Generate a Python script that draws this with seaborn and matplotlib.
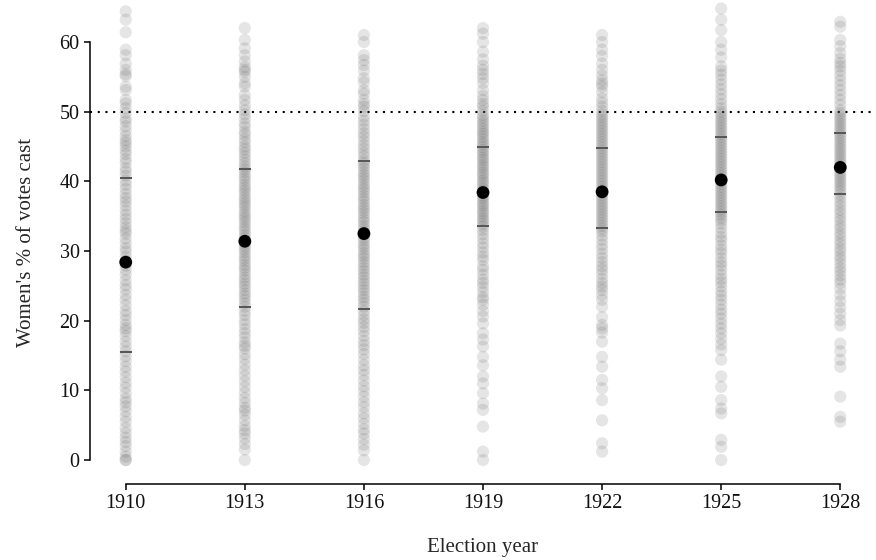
import numpy as np
import pandas as pd
import seaborn as sns
import matplotlib.pyplot as plt

# election years and women's share of votes per municipality
years = [1910, 1913, 1916, 1919, 1922, 1925, 1928]

pct_1910 = [64.4, 63.2, 61.4, 58.9, 58.1, 56.9, 56.0, 55.4, 55.1, 53.6, 53.1, 51.7, 51.2, 50.5,
            49.8, 49.0, 48.6, 47.9, 47.2, 46.5, 45.9, 45.5, 45.0, 44.4, 43.9, 43.2, 42.7, 41.9,
            41.4, 40.8, 40.1, 39.5, 38.9, 38.2, 37.6, 37.1, 36.5, 35.8, 35.2, 34.6, 34.0, 33.4,
            32.9, 32.5, 31.8, 31.1, 30.4, 29.9, 29.2, 28.6, 27.9, 27.3, 26.6, 25.8, 25.1, 24.5,
            23.7, 23.0, 22.2, 21.4, 20.8, 20.1, 19.4, 18.9, 18.5, 17.8, 17.0, 16.3, 15.6, 14.9,
            14.2, 13.4, 12.7, 11.9, 11.1, 10.4, 9.6, 8.8, 8.3, 7.7, 7.0, 6.2, 5.5, 4.6, 3.9, 3.2,
            2.6, 2.0, 1.2, 0.5, 0.0, 0.0]
pct_1913 = [62.0, 60.3, 59.1, 58.1, 57.2, 56.4, 56.0, 55.7, 55.0, 54.1, 53.6, 52.4, 51.7, 50.9,
            50.2, 49.6, 49.0, 48.3, 47.8, 47.1, 46.7, 46.1, 45.6, 45.0, 44.6, 44.1, 43.6, 43.1,
            42.6, 42.1, 41.7, 41.3, 40.8, 40.4, 40.0, 39.5, 39.1, 38.7, 38.3, 37.8, 37.4, 37.0,
            36.6, 36.2, 35.7, 35.3, 34.9, 34.5, 34.1, 33.6, 33.2, 32.8, 32.3, 31.9, 31.5, 31.0,
            30.6, 30.2, 29.8, 29.3, 28.9, 28.5, 28.0, 27.6, 27.2, 26.7, 26.2, 25.8, 25.3, 24.9,
            24.4, 23.9, 23.5, 23.0, 22.5, 22.0, 21.4, 20.8, 20.1, 19.5, 18.8, 18.2, 17.6, 16.9,
            16.4, 16.0, 15.2, 14.5, 13.7, 12.9, 12.1, 11.3, 10.5, 9.7, 8.9, 8.2, 7.5, 7.1, 6.5,
            5.7, 4.9, 4.3, 3.8, 3.1, 2.3, 1.5, 0.0]
pct_1916 = [61.0, 60.0, 58.1, 57.4, 56.7, 55.9, 54.8, 54.2, 53.1, 52.6, 51.7, 51.1, 50.7, 50.1,
            49.3, 48.7, 48.1, 47.5, 46.9, 46.4, 45.8, 45.2, 44.7, 44.1, 43.6, 43.0, 42.6, 42.2,
            41.8, 41.3, 40.9, 40.5, 40.1, 39.6, 39.2, 38.8, 38.4, 37.9, 37.5, 37.1, 36.6, 36.2,
            35.8, 35.4, 34.9, 34.5, 34.1, 33.6, 33.2, 32.8, 32.3, 31.9, 31.5, 31.0, 30.6, 30.2,
            29.7, 29.3, 28.9, 28.4, 28.0, 27.5, 27.1, 26.6, 26.2, 25.7, 25.3, 24.8, 24.4, 23.9,
            23.4, 23.0, 22.5, 22.0, 21.4, 20.8, 20.2, 19.7, 19.1, 18.5, 17.8, 17.1, 16.5, 15.9,
            15.2, 14.4, 13.6, 12.9, 12.2, 11.4, 10.6, 9.9, 9.1, 8.3, 7.6, 6.7, 6.0, 5.2, 4.4,
            3.8, 3.0, 2.2, 1.4, 0.0]
pct_1919 = [62.0, 61.2, 60.0, 58.6, 57.5, 56.6, 56.0, 55.4, 54.8, 54.1, 53.1, 52.3, 51.7, 51.1,
            50.7, 50.1, 49.5, 49.1, 48.7, 48.3, 47.9, 47.5, 47.1, 46.8, 46.4, 46.0, 45.6, 45.3,
            44.9, 44.5, 44.2, 43.8, 43.4, 43.1, 42.7, 42.3, 42.0, 41.6, 41.2, 40.9, 40.5, 40.1,
            39.8, 39.4, 39.0, 38.7, 38.3, 37.9, 37.6, 37.2, 36.8, 36.5, 36.1, 35.7, 35.4, 35.0,
            34.6, 34.3, 33.9, 33.5, 33.0, 32.4, 31.8, 31.1, 30.5, 29.8, 29.2, 28.7, 27.8, 27.3,
            26.6, 25.9, 25.4, 24.8, 24.1, 23.4, 23.0, 22.3, 21.4, 20.6, 19.6, 18.2, 17.3, 16.3,
            14.8, 13.6, 12.0, 11.0, 9.6, 8.1, 7.2, 4.8, 1.2, 0.0]
pct_1922 = [61.0, 60.0, 58.9, 58.0, 56.9, 56.0, 55.2, 54.5, 54.0, 53.6, 52.8, 51.9, 51.3, 50.7,
            50.1, 49.6, 49.2, 48.8, 48.4, 48.0, 47.6, 47.2, 46.8, 46.4, 46.0, 45.6, 45.2, 44.8,
            44.4, 44.0, 43.6, 43.2, 42.8, 42.4, 42.0, 41.6, 41.2, 40.8, 40.4, 40.0, 39.6, 39.2,
            38.8, 38.4, 38.0, 37.6, 37.2, 36.8, 36.4, 36.0, 35.6, 35.2, 34.8, 34.4, 34.0, 33.6,
            33.2, 32.8, 32.2, 31.6, 30.9, 30.3, 29.6, 29.0, 28.4, 27.8, 27.3, 26.7, 26.0, 25.4,
            24.9, 24.4, 23.7, 23.0, 22.0, 20.5, 19.4, 18.9, 18.3, 17.0, 14.8, 13.4, 11.5, 10.3,
            8.6, 5.7, 2.4, 1.2]
pct_1925 = [64.8, 63.2, 61.7, 60.0, 58.9, 57.8, 56.5, 55.9, 55.3, 54.6, 53.9, 53.2, 52.5, 51.8,
            51.1, 50.5, 50.0, 49.6, 49.2, 48.8, 48.4, 48.0, 47.6, 47.2, 46.8, 46.4, 46.0, 45.6,
            45.2, 44.8, 44.4, 44.0, 43.6, 43.2, 42.8, 42.4, 42.0, 41.6, 41.2, 40.8, 40.4, 40.0,
            39.6, 39.2, 38.8, 38.4, 38.0, 37.6, 37.2, 36.8, 36.4, 36.0, 35.6, 35.2, 34.8, 34.4,
            33.9, 33.3, 32.6, 32.0, 31.5, 30.8, 30.2, 29.7, 29.0, 28.4, 27.9, 27.3, 26.6, 26.0,
            25.5, 24.9, 24.2, 23.6, 23.0, 22.3, 21.6, 21.0, 20.3, 19.6, 18.9, 18.2, 17.4, 16.6,
            15.8, 14.4, 12.0, 10.5, 8.6, 7.4, 6.7, 2.9, 1.9, 0.0]
pct_1928 = [62.9, 62.2, 60.3, 59.4, 58.4, 57.6, 57.0, 56.5, 55.9, 55.2, 54.5, 53.8, 53.1, 52.4,
            51.7, 51.0, 50.2, 49.8, 49.4, 49.0, 48.6, 48.2, 47.8, 47.4, 47.0, 46.6, 46.2, 45.8,
            45.4, 45.0, 44.6, 44.2, 43.8, 43.4, 43.0, 42.6, 42.2, 41.8, 41.4, 41.0, 40.6, 40.2,
            39.8, 39.4, 39.0, 38.6, 38.1, 37.6, 37.0, 36.5, 35.9, 35.4, 34.8, 34.3, 33.7, 33.2,
            32.6, 32.1, 31.5, 31.0, 30.4, 29.9, 29.3, 28.8, 28.2, 27.6, 27.1, 26.5, 25.9, 25.4,
            24.6, 23.7, 22.8, 21.9, 21.0, 20.1, 19.3, 16.7, 15.6, 14.4, 13.4, 9.1, 6.2, 5.5]

# summary markers per year
means = [28.4, 31.4, 32.5, 38.4, 38.5, 40.2, 42.0]
q_low = [15.5, 21.9, 21.7, 33.6, 33.3, 35.6, 38.2]
q_high = [40.5, 41.8, 42.9, 45.0, 44.8, 46.3, 46.9]

all_pct = [pct_1910, pct_1913, pct_1916, pct_1919, pct_1922, pct_1925, pct_1928]
df = pd.DataFrame({
    'year': np.repeat(years, [len(v) for v in all_pct]),
    'pct': np.concatenate(all_pct),
})

sns.set_style('ticks')
plt.rcParams['font.family'] = ['Liberation Serif', 'DejaVu Serif']

fig = plt.figure(figsize=(8.76, 5.6), dpi=100)
ax = fig.add_axes([90 / 876, 76 / 560, 786 / 876, 484 / 560])

ax.axhline(50, color='black', ls=(0, (1, 2.7)), lw=1.5, zorder=0)
sns.scatterplot(data=df, x='year', y='pct', color='#555555', alpha=0.15, s=78,
                linewidth=0, edgecolor='none', ax=ax, zorder=1, legend=False)

yr = np.array(years)
ax.hlines(q_low, yr - 0.15, yr + 0.15, color='#555555', lw=1.4, zorder=2)
ax.hlines(q_high, yr - 0.15, yr + 0.15, color='#555555', lw=1.4, zorder=2)
sns.scatterplot(x=years, y=means, color='black', s=85, linewidth=0, edgecolor='none',
                ax=ax, zorder=3)

ax.set_xlim(1909.1, 1928.9)
ax.set_ylim(-3.44, 66.03)
ax.set_xticks(years)
ax.set_yticks(range(0, 61, 10))

for side in ['top', 'right']:
    ax.spines[side].set_visible(False)
ax.spines['left'].set_bounds(0, 60)
ax.spines['bottom'].set_bounds(1910, 1928)
for side in ['left', 'bottom']:
    ax.spines[side].set_linewidth(1.1)
    ax.spines[side].set_color('black')

ax.tick_params(axis='both', length=4.5, width=1.1, color='black', labelsize=14.5,
               labelcolor='#111111', pad=3)
ax.set_xlabel('Election year', fontsize=15, labelpad=18)
ax.set_ylabel("Women's % of votes cast", fontsize=15, labelpad=17)

fig.savefig('out.png', dpi=100)
